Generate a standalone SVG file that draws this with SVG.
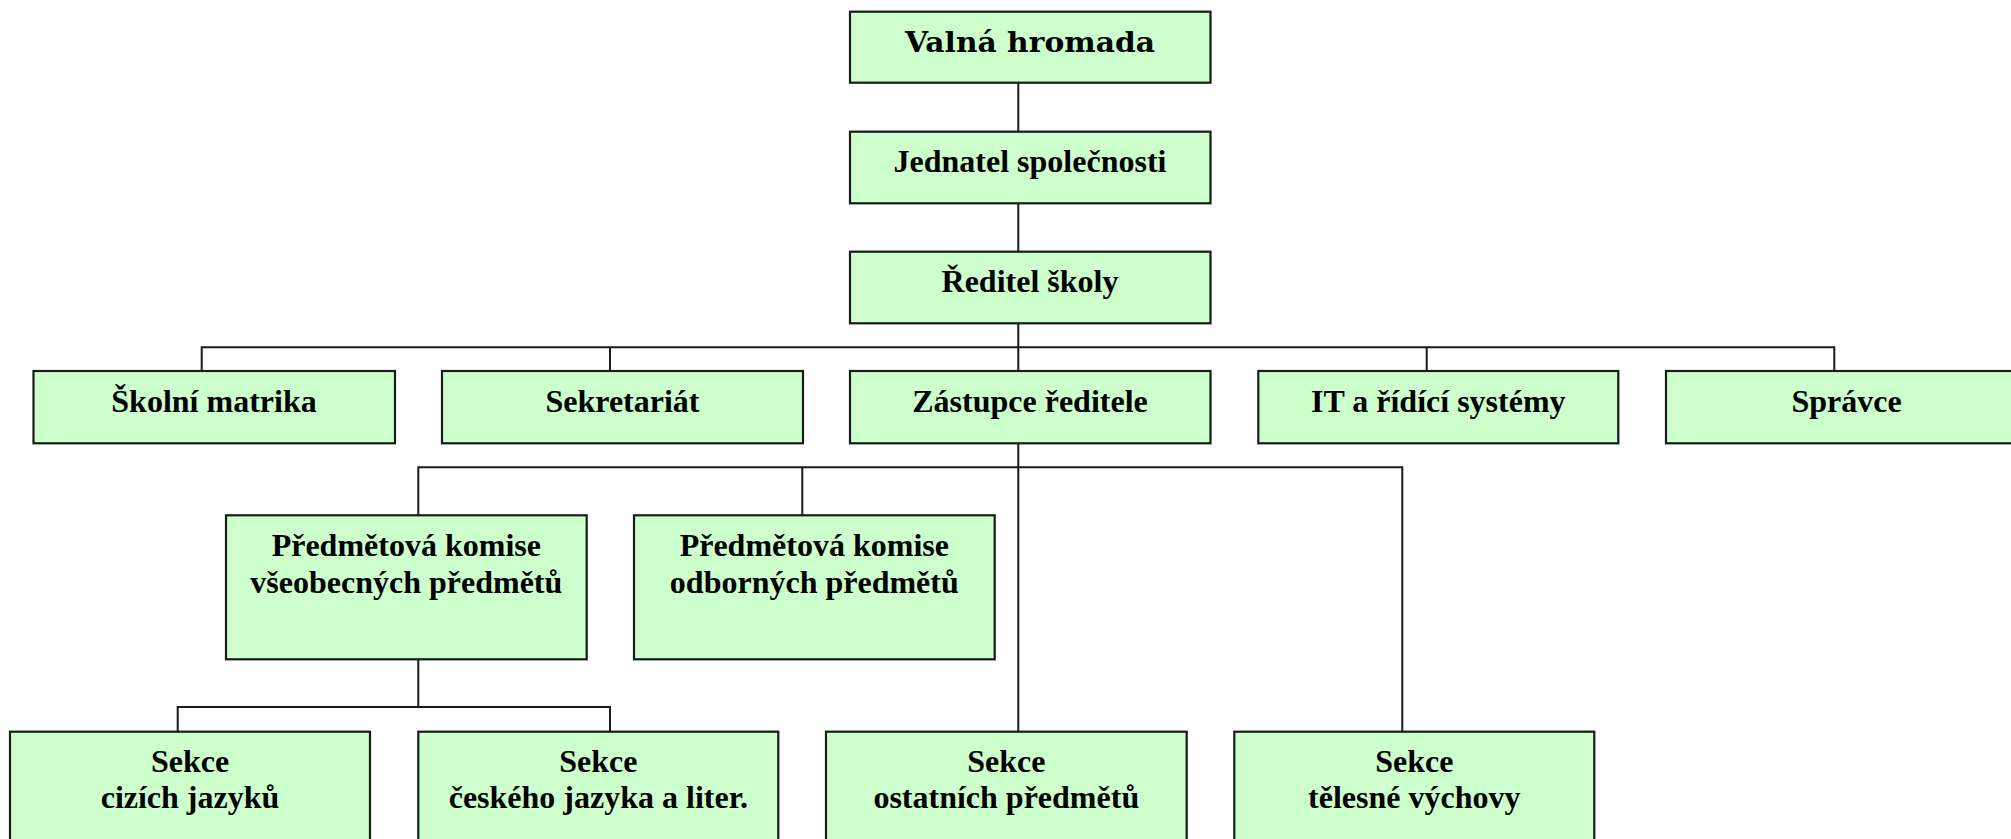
<svg xmlns="http://www.w3.org/2000/svg" width="2011" height="839" viewBox="0 0 2011 839">
<style>
.box{fill:#ccffcc;stroke:#1a1a1a;stroke-width:2.2}
.t{font-family:"Liberation Serif","Times New Roman",serif;font-weight:bold;font-size:32px;fill:#000;text-anchor:middle}
.v{font-family:"DejaVu Serif",serif;font-weight:bold;font-size:27px;fill:#000;text-anchor:middle}
.c{fill:none;stroke:#1a1a1a;stroke-width:2}
</style>
<rect width="2011" height="839" fill="#fff"/>
<g id="connectors">
<path class="c" d="M1018.3 82.7V131.7M1018.3 203.3V251.7M1018.3 323.3V347.3"/>
<path class="c" d="M201.7 371V347.3H1834.3V371M610 347.3V371M1018.3 347.3V371M1426.7 347.3V371"/>
<path class="c" d="M1018.3 443.3V731.7"/>
<path class="c" d="M418.3 515.3V467.3H1402.3V731.7M802.3 467.3V515.3"/>
<path class="c" d="M418.3 659.3V707M177.7 731.7V707H610V731.7"/>
</g>
<g id="valna"><rect class="box" x="850" y="11.7" width="360.5" height="71"/><text class="v" x="1030" y="51.7" textLength="250" lengthAdjust="spacingAndGlyphs">Valná hromada</text></g>
<g id="jednatel"><rect class="box" x="850" y="131.7" width="360.5" height="71.6"/><text class="t" x="1030" y="171.7">Jednatel společnosti</text></g>
<g id="reditel"><rect class="box" x="850" y="251.7" width="360.5" height="71.6"/><text class="t" x="1030" y="291.7">Ředitel školy</text></g>
<g id="matrika"><rect class="box" x="33.5" y="371" width="361.5" height="72.3"/><text class="t" x="214" y="411.7">Školní matrika</text></g>
<g id="sekretariat"><rect class="box" x="442" y="371" width="361" height="72.3"/><text class="t" x="622.5" y="411.7">Sekretariát</text></g>
<g id="zastupce"><rect class="box" x="850" y="371" width="360.5" height="72.3"/><text class="t" x="1030" y="411.7">Zástupce ředitele</text></g>
<g id="it"><rect class="box" x="1258.3" y="371" width="360" height="72.3"/><text class="t" x="1438.3" y="411.7">IT a řídící systémy</text></g>
<g id="spravce"><rect class="box" x="1666" y="371" width="361" height="72.3"/><text class="t" x="1846.5" y="411.7">Správce</text></g>
<g id="pk-vseob"><rect class="box" x="226" y="515.3" width="360.7" height="144"/><text class="t" x="406.3" y="556">Předmětová komise</text><text class="t" x="406.3" y="592.7">všeobecných předmětů</text></g>
<g id="pk-odb"><rect class="box" x="634" y="515.3" width="360.7" height="144"/><text class="t" x="814.3" y="556">Předmětová komise</text><text class="t" x="814.3" y="592.7">odborných předmětů</text></g>
<g id="s-cizi"><rect class="box" x="10" y="731.7" width="360" height="130"/><text class="t" x="190" y="771.7">Sekce</text><text class="t" x="190" y="808.3">cizích jazyků</text></g>
<g id="s-cesky"><rect class="box" x="418.3" y="731.7" width="360" height="130"/><text class="t" x="598.3" y="771.7">Sekce</text><text class="t" x="598.3" y="808.3">českého jazyka a liter.</text></g>
<g id="s-ostatni"><rect class="box" x="826" y="731.7" width="360.7" height="130"/><text class="t" x="1006.3" y="771.7">Sekce</text><text class="t" x="1006.3" y="808.3">ostatních předmětů</text></g>
<g id="s-telesna"><rect class="box" x="1234.3" y="731.7" width="360" height="130"/><text class="t" x="1414.3" y="771.7">Sekce</text><text class="t" x="1414.3" y="808.3">tělesné výchovy</text></g>
</svg>
